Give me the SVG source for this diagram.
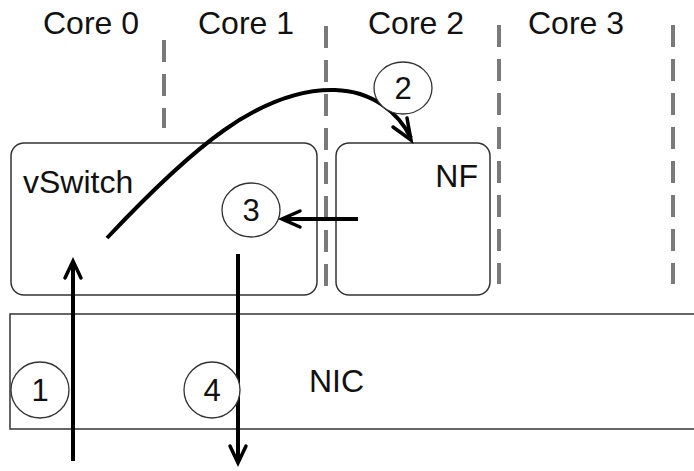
<svg xmlns="http://www.w3.org/2000/svg" width="694" height="471" viewBox="0 0 694 471">
<style>
.t{font-family:"Liberation Sans",Arial,sans-serif;font-size:32px;fill:#111}
.n{font-family:"Liberation Sans",Arial,sans-serif;font-size:31px;fill:#111;text-anchor:middle}
.box{fill:#fff;stroke:#333;stroke-width:1.5}
.dash{stroke:#7a7a7a;stroke-width:4;stroke-dasharray:22 12;fill:none}
.c{fill:#fff;stroke:#333;stroke-width:1.3}
.ar{stroke:#000;stroke-width:4;fill:none}
.hd{stroke:#000;stroke-width:3.5;fill:none;stroke-linejoin:miter;stroke-linecap:round}
</style>
<rect width="694" height="471" fill="#fff"/>
<g id="cores">
<text class="t" x="91" y="34" text-anchor="middle">Core 0</text>
<text class="t" x="246" y="34" text-anchor="middle">Core 1</text>
<text class="t" x="416" y="34" text-anchor="middle">Core 2</text>
<text class="t" x="576" y="34" text-anchor="middle">Core 3</text>
<path class="dash" d="M164,40V128"/>
<path class="dash" d="M326,26V296"/>
<path class="dash" d="M499,25V284"/>
<path class="dash" d="M673,25V284"/>
</g>
<g id="nic">
<path class="box" d="M700,314H10V429H700"/>
<text class="t" x="309" y="392">NIC</text>
</g>
<g id="vswitch">
<rect class="box" x="11" y="143" width="306" height="152" rx="13"/>
<text class="t" x="23" y="193">vSwitch</text>
</g>
<g id="nf">
<rect class="box" x="336" y="143" width="154" height="152" rx="13"/>
<text class="t" x="478" y="187" text-anchor="end">NF</text>
</g>
<g id="connectors">
<path class="ar" d="M73,461V262"/>
<path class="hd" d="M65,278L73,261L81,278"/>
<path class="ar" d="M238,254V462"/>
<path class="hd" d="M230,446L238,463L246,446"/>
<path class="ar" d="M358,219H283"/>
<path class="hd" d="M300,211L282,219L300,227"/>
<path class="ar" d="M107,238C190,150 260,88 335,90C372,91 398,112 411,138"/>
<path class="hd" d="M393,127L411,140L407,118"/>
</g>
<g id="labels">
<ellipse class="c" cx="403" cy="88" rx="29" ry="26"/>
<text class="n" x="403" y="99">2</text>
<ellipse class="c" cx="251" cy="210" rx="29" ry="27"/>
<text class="n" x="251" y="221">3</text>
<ellipse class="c" cx="40" cy="390" rx="29" ry="28"/>
<text class="n" x="40" y="401">1</text>
<ellipse class="c" cx="212" cy="390" rx="28" ry="28"/>
<text class="n" x="212" y="401">4</text>
</g>
</svg>
